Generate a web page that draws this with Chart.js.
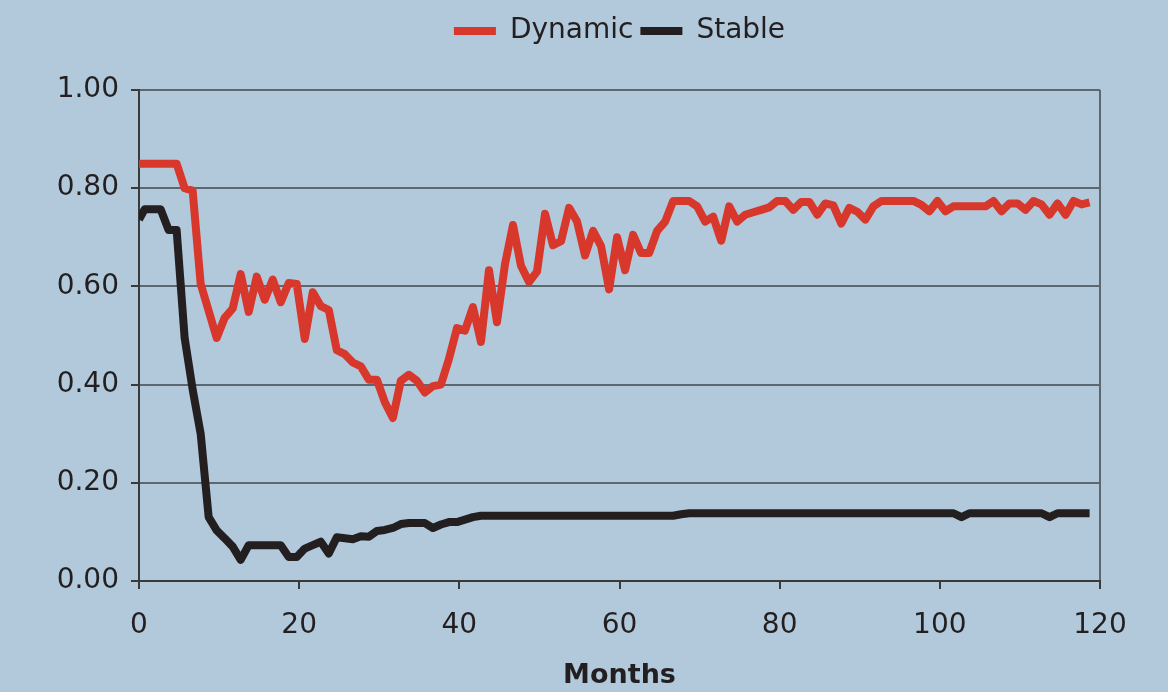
<!DOCTYPE html>
<html>
<head>
<meta charset="utf-8">
<script src="https://cdn.jsdelivr.net/npm/chart.js@4.4.1/dist/chart.umd.min.js"></script>
<style>
  html, body { margin: 0; padding: 0; background: #b2c9db; }
  #wrap { width: 1168px; height: 692px; position: relative; }
</style>
</head>
<body>
<div id="wrap"><canvas id="c" width="1168" height="692"></canvas></div>
<script>
const seriesNames = ['Dynamic', 'Stable'];
const xTicks = [0, 20, 40, 60, 80, 100, 120];
const yTicks = [0, 0.2, 0.4, 0.6, 0.8, 1.0];
const xTitle = 'Months';

const dynamic = [
  0.85, 0.85, 0.85, 0.85, 0.85, 0.85, 0.80, 0.795, 0.605, 0.55,
  0.495, 0.536, 0.555, 0.625, 0.548, 0.62, 0.573, 0.614, 0.568, 0.607,
  0.605, 0.493, 0.588, 0.56, 0.552, 0.47, 0.462, 0.445, 0.437, 0.41,
  0.41, 0.364, 0.332, 0.408, 0.42, 0.408, 0.384, 0.397, 0.40, 0.452,
  0.515, 0.51, 0.558, 0.487, 0.633, 0.527, 0.645, 0.725, 0.642, 0.609,
  0.63, 0.748, 0.684, 0.692, 0.76, 0.732, 0.663, 0.713, 0.682, 0.594,
  0.70, 0.633, 0.705, 0.668, 0.668, 0.713, 0.732, 0.774, 0.774, 0.774,
  0.763, 0.732, 0.742, 0.693, 0.763, 0.732, 0.746, 0.751, 0.756, 0.761,
  0.774, 0.774, 0.756, 0.772, 0.772, 0.746, 0.769, 0.765, 0.728, 0.76,
  0.752, 0.736, 0.763, 0.774, 0.774, 0.774, 0.774, 0.774, 0.766, 0.753,
  0.774, 0.753, 0.763, 0.763, 0.763, 0.763, 0.763, 0.774, 0.753, 0.769,
  0.769, 0.756, 0.774, 0.767, 0.746, 0.769, 0.746, 0.774, 0.767, 0.771
];

const stable = [
  0.736, 0.757, 0.757, 0.757, 0.715, 0.715, 0.495, 0.39, 0.30, 0.13,
  0.103, 0.087, 0.07, 0.043, 0.073, 0.073, 0.073, 0.073, 0.073, 0.049,
  0.049, 0.066, 0.073, 0.08, 0.056, 0.089, 0.087, 0.085, 0.091, 0.09,
  0.102, 0.104, 0.108, 0.116, 0.118, 0.118, 0.118, 0.108, 0.115, 0.12,
  0.12, 0.125, 0.13, 0.133, 0.133, 0.133, 0.133, 0.133, 0.133, 0.133,
  0.133, 0.133, 0.133, 0.133, 0.133, 0.133, 0.133, 0.133, 0.133, 0.133,
  0.133, 0.133, 0.133, 0.133, 0.133, 0.133, 0.133, 0.133, 0.136, 0.138,
  0.138, 0.138, 0.138, 0.138, 0.138, 0.138, 0.138, 0.138, 0.138, 0.138,
  0.138, 0.138, 0.138, 0.138, 0.138, 0.138, 0.138, 0.138, 0.138, 0.138,
  0.138, 0.138, 0.138, 0.138, 0.138, 0.138, 0.138, 0.138, 0.138, 0.138,
  0.138, 0.138, 0.138, 0.130, 0.138, 0.138, 0.138, 0.138, 0.138, 0.138,
  0.138, 0.138, 0.138, 0.138, 0.130, 0.138, 0.138, 0.138, 0.138, 0.138
];

// observation positions along the month axis (first observation at 0, then monthly)
const months = dynamic.map((_, i) => (i === 0 ? 0 : i - 0.3));

const FONT = 'DejaVu Sans';
const TEXT = '#231f20';
const GRID = '#5c6770';
const AXIS = '#3a3a3a';
const BG = '#b2c9db';

const bgPlugin = {
  id: 'bg',
  beforeDraw(chart) {
    const { ctx, width, height } = chart;
    ctx.save();
    ctx.fillStyle = BG;
    ctx.fillRect(0, 0, width, height);
    ctx.restore();
  }
};

// give the legend extra room below it and centre it over the plot area
const legendLayout = {
  id: 'legendLayout',
  afterInit(chart) {
    const lg = chart.legend;
    if (!lg || lg._patched) return;
    const origFit = lg.fit.bind(lg);
    lg.fit = function () { origFit(); this.height += 35; };
    lg._patched = true;
  },
  afterLayout(chart) {
    const lg = chart.legend;
    if (!lg) return;
    const shift = (chart.chartArea.left + chart.chartArea.right) / 2 - (lg.left + lg.right) / 2;
    lg.left += shift;
    lg.right += shift;
  }
};

new Chart(document.getElementById('c'), {
  type: 'line',
  data: {
    datasets: [
      {
        label: seriesNames[0],
        data: months.map((m, i) => ({ x: m, y: dynamic[i] })),
        borderColor: '#d8382c',
        backgroundColor: '#d8382c',
        borderWidth: 8,
        pointRadius: 0,
        tension: 0,
        borderJoinStyle: 'round'
      },
      {
        label: seriesNames[1],
        data: months.map((m, i) => ({ x: m, y: stable[i] })),
        borderColor: '#231f20',
        backgroundColor: '#231f20',
        borderWidth: 8,
        pointRadius: 0,
        tension: 0,
        borderJoinStyle: 'round'
      }
    ]
  },
  options: {
    responsive: false,
    animation: false,
    devicePixelRatio: 1,
    layout: { padding: { top: 10, right: 68, bottom: 0, left: 0 } },
    plugins: {
      legend: {
        display: true,
        position: 'top',
        labels: {
          boxWidth: 42,
          boxHeight: 8,
          padding: 7,
          color: TEXT,
          font: { family: FONT, size: 28 },
          generateLabels: (chart) => {
            const items = Chart.defaults.plugins.legend.labels.generateLabels(chart);
            items.forEach(it => { it.lineWidth = 0; it.strokeStyle = 'rgba(0,0,0,0)'; });
            return items;
          }
        }
      },
      tooltip: { enabled: false }
    },
    scales: {
      x: {
        type: 'linear',
        min: 0,
        max: 120,
        afterBuildTicks: (s) => { s.ticks = xTicks.map(v => ({ value: v })); },
        afterFit: (s) => { s.height = 111; },
        ticks: {
          color: TEXT,
          font: { family: FONT, size: 28 },
          padding: 20,
          maxRotation: 0,
          callback: (v) => String(v)
        },
        grid: {
          drawOnChartArea: true,
          color: (c) => (c.tick && c.tick.value === 120 ? GRID : 'rgba(0,0,0,0)'),
          tickColor: AXIS,
          tickLength: 8,
          lineWidth: 2
        },
        border: { display: true, color: AXIS, width: 2 },
        title: {
          display: true,
          text: xTitle,
          color: TEXT,
          font: { family: FONT, size: 27, weight: 'bold' },
          padding: { top: 4, bottom: 0 }
        }
      },
      y: {
        min: 0,
        max: 1,
        afterBuildTicks: (s) => { s.ticks = yTicks.map(v => ({ value: v })); },
        afterFit: (s) => { s.width = 139; },
        ticks: {
          color: TEXT,
          font: { family: FONT, size: 28 },
          padding: 12,
          callback: (v) => Number(v).toFixed(2)
        },
        grid: {
          color: GRID,
          tickColor: AXIS,
          tickLength: 8,
          lineWidth: 2
        },
        border: { display: true, color: AXIS, width: 2 }
      }
    }
  },
  plugins: [bgPlugin, legendLayout]
});
</script>
</body>
</html>
